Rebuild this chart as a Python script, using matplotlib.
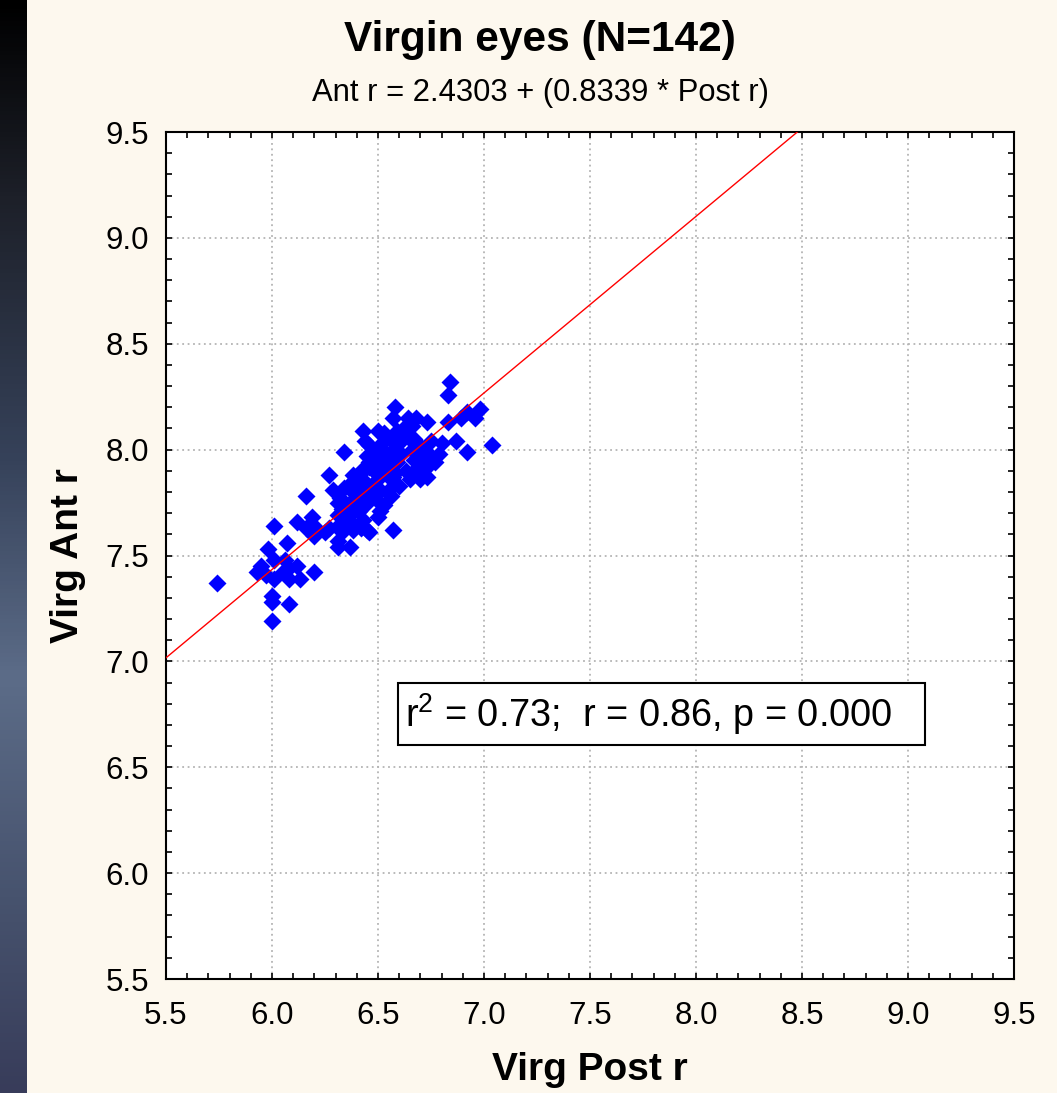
import numpy as np
import matplotlib
matplotlib.use("Agg")
import matplotlib.pyplot as plt
from matplotlib.colors import LinearSegmentedColormap
from matplotlib.patches import Rectangle
from matplotlib.ticker import MultipleLocator, FormatStrFormatter

plt.rcParams['font.family'] = ['Liberation Sans', 'DejaVu Sans']
plt.rcParams['mathtext.fontset'] = 'custom'
plt.rcParams['mathtext.rm'] = 'Liberation Sans'

# posterior / anterior radius of virgin eyes
post_r = [5.74, 5.93, 5.95, 5.98, 6.00, 6.00, 6.00, 6.01, 6.01, 6.01,
          6.05, 6.07, 6.08, 6.08, 6.08, 6.12, 6.12, 6.13, 6.16, 6.16,
          6.19, 6.20, 6.20, 6.21, 6.25, 6.27, 6.29, 6.31, 6.31, 6.31,
          6.31, 6.31, 6.32, 6.33, 6.33, 6.33, 6.34, 6.34, 6.35, 6.37,
          6.36, 6.37, 6.37, 6.38, 6.38, 6.40, 6.41, 6.41, 6.42, 6.42,
          6.42, 6.43, 6.43, 6.45, 6.45, 6.46, 6.46, 6.46, 6.46, 6.46,
          6.48, 6.48, 6.48, 6.50, 6.50, 6.50, 6.50, 6.50, 6.51, 6.51,
          6.52, 6.52, 6.53, 6.53, 6.54, 6.54, 6.55, 6.56, 6.56, 6.56,
          6.56, 6.56, 6.57, 6.57, 6.57, 6.57, 6.58, 6.58, 6.58, 6.61,
          6.61, 6.63, 6.64, 6.64, 6.65, 6.66, 6.66, 6.67, 6.67, 6.68,
          6.69, 6.70, 6.71, 6.71, 6.71, 6.73, 6.73, 6.73, 6.75, 6.75,
          6.77, 6.80, 6.83, 6.83, 6.84, 6.87, 6.89, 6.92, 6.92, 6.96,
          6.98, 7.04, 6.71, 6.39, 6.44, 6.49, 6.53, 6.59, 6.63, 6.45,
          6.38, 6.27, 6.60, 6.34, 6.42, 6.51, 6.67, 6.59, 6.44, 6.06,
          5.97, 6.79]
ant_r = [7.37, 7.42, 7.45, 7.53, 7.31, 7.28, 7.19, 7.64, 7.48, 7.39,
         7.42, 7.56, 7.44, 7.27, 7.39, 7.45, 7.66, 7.39, 7.78, 7.63,
         7.68, 7.59, 7.42, 7.63, 7.61, 7.88, 7.81, 7.69, 7.64, 7.57,
         7.54, 7.75, 7.77, 7.65, 7.72, 7.61, 7.99, 7.82, 7.73, 7.54,
         7.68, 7.84, 7.75, 7.88, 7.65, 7.83, 7.75, 7.71, 7.89, 7.63,
         7.90, 8.09, 7.67, 7.84, 7.62, 8.02, 7.94, 7.92, 7.77, 7.61,
         7.98, 7.90, 7.81, 8.09, 7.80, 7.68, 7.89, 7.86, 8.01, 7.75,
         8.03, 7.95, 8.08, 7.74, 7.97, 7.90, 7.81, 7.78, 8.05, 7.94,
         7.91, 7.86, 8.00, 7.87, 7.62, 8.15, 8.20, 8.01, 7.89, 8.04,
         7.98, 8.11, 8.15, 8.06, 7.86, 8.11, 8.00, 7.90, 7.95, 8.15,
         7.88, 7.86, 8.00, 7.92, 7.97, 8.13, 7.92, 7.87, 8.04, 7.97,
         7.94, 8.03, 8.13, 8.26, 8.32, 8.04, 8.15, 8.18, 7.99, 8.15,
         8.19, 8.02, 8.01, 7.79, 7.74, 7.83, 7.93, 7.94, 7.90, 7.97,
         7.62, 7.63, 7.83, 7.69, 7.80, 7.71, 8.05, 8.09, 8.04, 7.48,
         7.41, 7.98]

intercept = 2.4303
slope = 0.8339
r_squared = 0.73
r_value = 0.86
p_value = 0.000

ticks = [5.5, 6.0, 6.5, 7.0, 7.5, 8.0, 8.5, 9.0, 9.5]

fig = plt.figure(figsize=(10.57, 10.93), dpi=100, facecolor='#fdf8ee')

# dark strip down the left edge
strip = fig.add_axes([0, 0, 0.0255, 1])
strip_cmap = LinearSegmentedColormap.from_list(
    'strip', [(0.0, '#000000'), (0.18, '#1d2029'), (0.42, '#36425a'),
              (0.62, '#5c6c88'), (0.82, '#47536e'), (1.0, '#383c5a')])
strip.imshow(np.linspace(0, 1, 256).reshape(-1, 1), aspect='auto', cmap=strip_cmap)
strip.axis('off')

ax = fig.add_axes([0.1570, 0.1043, 0.8023, 0.7749])
ax.set_facecolor('white')

# points first, fitted line on top of them
ax.plot(post_r, ant_r, 'D', color='#0000ff', ms=9, mec='none', lw=0, zorder=3)
xs = np.array([5.5, 9.5])
ax.plot(xs, intercept + slope * xs, color='red', lw=1.0, zorder=4)

ax.set_xlim(5.5, 9.5)
ax.set_ylim(5.5, 9.5)
ax.set_xticks(ticks)
ax.set_yticks(ticks)
ax.xaxis.set_major_formatter(FormatStrFormatter('%.1f'))
ax.yaxis.set_major_formatter(FormatStrFormatter('%.1f'))
ax.xaxis.set_minor_locator(MultipleLocator(0.1))
ax.yaxis.set_minor_locator(MultipleLocator(0.1))
ax.tick_params(which='both', direction='in', top=True, right=True,
               length=4, width=1.2, labelsize=22.5, colors='black')
ax.tick_params(axis='x', which='major', pad=16)
ax.tick_params(axis='y', which='major', pad=12)
ax.set_axisbelow(True)
ax.grid(True, which='major', color='#b4b4b4', linestyle=(0, (1, 2)), lw=1.3)
for sp in ax.spines.values():
    sp.set_linewidth(1.5)

ax.set_xlabel('Virg Post r', fontsize=28, fontweight='bold')
ax.set_ylabel('Virg Ant r', fontsize=28, fontweight='bold')
ax.xaxis.label.set_va('center')
ax.yaxis.label.set_va('center')
ax.yaxis.label.set_ha('center')
ax.xaxis.set_label_coords(0.5, -0.1075)
ax.yaxis.set_label_coords(-0.1156, 0.5)

fig.text(0.511, 0.963, f'Virgin eyes (N={len(post_r)})', ha='center', va='center',
         fontsize=30.5, fontweight='bold')
fig.text(0.511, 0.915, f'Ant r = {intercept:.4f} + ({slope:.4f} * Post r)',
         ha='center', va='center', fontsize=22.3)

# statistics box
ax.add_patch(Rectangle((0.2736, 0.2763), 0.6214, 0.0732, transform=ax.transAxes,
                       fc='white', ec='black', lw=1.5, zorder=5))
ax.text(0.2818, 0.3129,
        r'r$^{\mathrm{2}}$' + f' = {r_squared:.2f};  r = {r_value:.2f}, p = {p_value:.3f}',
        transform=ax.transAxes, ha='left', va='center', fontsize=27.3, zorder=6)

fig.savefig('out.png', dpi=100, facecolor=fig.get_facecolor())
